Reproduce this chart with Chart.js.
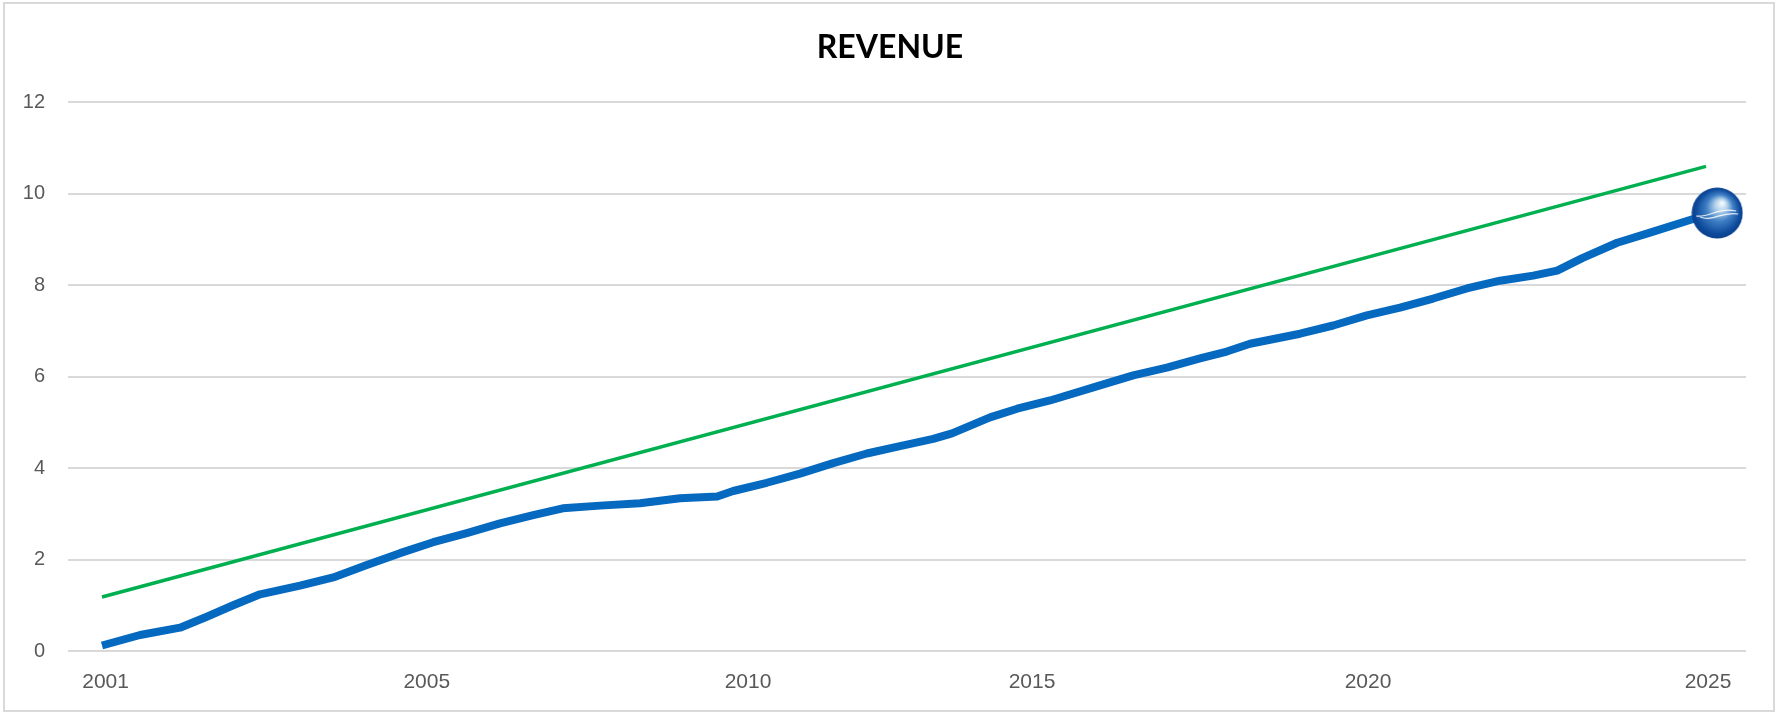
<!DOCTYPE html>
<html>
<head>
<meta charset="utf-8">
<title>Revenue</title>
<script src="https://cdn.jsdelivr.net/npm/chart.js@4"></script>
<style>
  html, body { margin: 0; padding: 0; background: #fff; }
  #wrap { position: relative; width: 1776px; height: 714px; overflow: hidden; }
  #frame { position: absolute; left: 3px; top: 2px; width: 1772px; height: 710px; box-sizing: border-box; border: 2px solid #d9d9d9; }
  #chart { position: absolute; left: 0; top: 0; }
</style>
</head>
<body>
<div id="wrap">
  <div id="frame"></div>
  <!-- a bit wider than the page: the x scale keeps about 34px free on its right -->
  <canvas id="chart" width="1780" height="714"></canvas>
</div>
<script>
// ---- data ----
const periods = [0, 4.75, 9.75, 13.1, 16.4, 19.75, 24.75, 28.9, 33.1, 37.25, 41.4, 45.6, 49.75, 53.9, 57.6, 62.25, 67.25, 72.25, 76.9, 78.9, 83.1, 87.25, 91.4, 95.6, 99.75, 103.9, 106.25, 111, 114.4, 118.5, 124.75, 128.9, 133.1, 137.25, 140.6, 143.5, 149.75, 153.9, 158.1, 162.25, 166.4, 170.6, 174.75, 178.9, 181.9, 185.1, 189.4, 193.5, 198.9, 201.9];
const revenue = [0.12, 0.35, 0.51, 0.75, 1.0, 1.24, 1.43, 1.61, 1.88, 2.14, 2.38, 2.58, 2.79, 2.97, 3.12, 3.18, 3.23, 3.34, 3.38, 3.5, 3.68, 3.88, 4.11, 4.32, 4.48, 4.64, 4.76, 5.11, 5.3, 5.48, 5.81, 6.03, 6.2, 6.4, 6.55, 6.72, 6.94, 7.12, 7.34, 7.51, 7.71, 7.93, 8.1, 8.21, 8.32, 8.6, 8.93, 9.15, 9.45, 9.58];
const trendPeriods = [0, 200.5];
const trendValues = [1.18, 10.6];
const tickPeriods = [0.45, 40.6, 80.75, 116.25, 158.25, 200.75];
const tickYears = ['2001', '2005', '2010', '2015', '2020', '2025'];

// globe marker on the last point
function makeOrb() {
  const c = document.createElement('canvas');
  c.width = 52; c.height = 52;
  const g = c.getContext('2d');
  const grad = g.createRadialGradient(31, 16, 1, 26, 26, 26);
  grad.addColorStop(0, '#f2f8fd');
  grad.addColorStop(0.2, '#b4d2ec');
  grad.addColorStop(0.5, '#3f7fc4');
  grad.addColorStop(0.85, '#0d4a9c');
  grad.addColorStop(1, '#0b3f8a');
  g.fillStyle = grad;
  g.beginPath(); g.arc(26, 26, 25.5, 0, Math.PI * 2); g.fill();
  g.strokeStyle = 'rgba(255,255,255,0.9)';
  g.lineWidth = 1.2;
  g.beginPath(); g.moveTo(5, 29); g.bezierCurveTo(18, 31, 26, 20, 45, 24); g.stroke();
  g.beginPath(); g.moveTo(9, 30); g.bezierCurveTo(22, 35, 30, 24, 47, 27); g.stroke();
  return c;
}
const orb = makeOrb();
const lastIdx = revenue.length - 1;

new Chart(document.getElementById('chart'), {
  type: 'line',
  data: {
    datasets: [
      {
        label: 'Revenue',
        data: periods.map((p, i) => ({ x: p, y: revenue[i] })),
        borderColor: '#0569c0',
        borderWidth: 8,
        borderJoinStyle: 'round',
        tension: 0,
        pointStyle: ctx => ctx.dataIndex === lastIdx ? orb : false,
        pointRadius: ctx => ctx.dataIndex === lastIdx ? 26 : 0,
      },
      {
        label: 'Trend',
        data: trendPeriods.map((p, i) => ({ x: p, y: trendValues[i] })),
        borderColor: '#00b050',
        borderWidth: 3.5,
        pointRadius: 0,
        tension: 0,
      }
    ]
  },
  options: {
    responsive: false,
    animation: false,
    layout: { padding: 0 },
    plugins: {
      legend: { display: false },
      tooltip: { enabled: false },
      title: {
        display: true,
        text: 'REVENUE',
        color: '#000',
        font: { family: 'Lato', size: 32, weight: 'bold', lineHeight: 1.2 },
        padding: { top: 28, bottom: 36 },
      }
    },
    scales: {
      x: {
        type: 'linear',
        min: -4.25,
        max: 205.5,
        afterBuildTicks: axis => { axis.ticks = tickPeriods.map(v => ({ value: v })); },
        afterFit: axis => { axis.height = 63; },
        grid: { display: false },
        border: { display: false },
        ticks: {
          autoSkip: false,
          maxRotation: 0,
          padding: 11,
          color: '#595959',
          font: { family: 'Liberation Sans', size: 21 },
          callback: v => tickYears[tickPeriods.indexOf(v)],
        }
      },
      y: {
        min: 0,
        max: 12,
        afterFit: axis => { axis.width = 68; },
        grid: { color: '#d9d9d9', lineWidth: 2, drawTicks: false },
        border: { display: false },
        ticks: {
          stepSize: 2,
          padding: 23,
          color: '#595959',
          font: { family: 'Liberation Sans', size: 20 },
        }
      }
    }
  }
});
</script>
</body>
</html>
